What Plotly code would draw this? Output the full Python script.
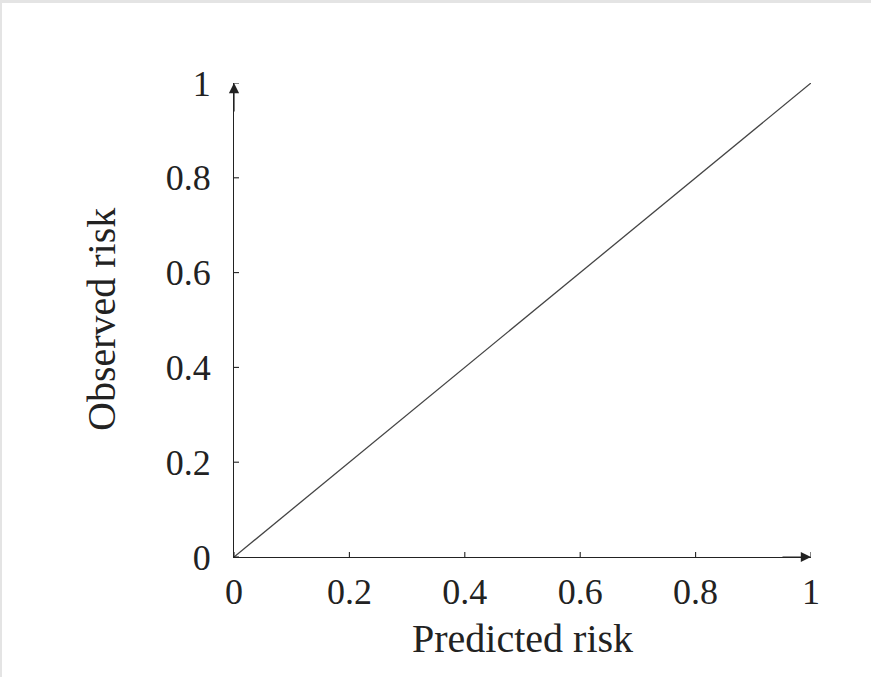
import plotly.graph_objects as go

# data
x_vals = [0, 1]
y_vals = [0, 1]
tick_vals = [0, 0.2, 0.4, 0.6, 0.8, 1]
tick_text = ["0", "0.2", "0.4", "0.6", "0.8", "1"]
x_title = "Predicted risk"
y_title = "Observed risk"

W, H = 871, 677
L, R, T, B = 234, 60, 83, 120
PW, PH = W - L - R, H - T - B
FONT = "Liberation Serif"
AX = "#222222"


def pxx(px):
    return (px - L) / PW


def pxy(py):
    return (H - B - py) / PH


fig = go.Figure()
fig.add_trace(go.Scatter(x=x_vals, y=y_vals, mode="lines",
                         line=dict(color="#444444", width=1.3),
                         showlegend=False, hoverinfo="skip", cliponaxis=False))

shapes = []
# gray frame bands at top and left of the page
shapes.append(dict(type="rect", xref="paper", yref="paper", x0=pxx(0), x1=pxx(W),
                   y0=pxy(3), y1=pxy(0), fillcolor="#e4e4e4", line=dict(width=0), layer="below"))
shapes.append(dict(type="rect", xref="paper", yref="paper", x0=pxx(0), x1=pxx(2),
                   y0=pxy(H), y1=pxy(0), fillcolor="#e4e4e4", line=dict(width=0), layer="below"))
# ticks crossing the axes (both sides)
for v in tick_vals:
    shapes.append(dict(type="line", xref="x", yref="y", ysizemode="pixel", yanchor=0,
                       x0=v, x1=v, y0=-5, y1=5, line=dict(color=AX, width=1.1)))
    shapes.append(dict(type="line", xref="x", yref="y", xsizemode="pixel", xanchor=0,
                       y0=v, y1=v, x0=-5, x1=5, line=dict(color=AX, width=1.1)))

annotations = [
    dict(x=1, y=0, xref="x", yref="y", ax=-30, ay=0, text="", showarrow=True,
         arrowhead=2, arrowsize=1.7, arrowwidth=1.2, arrowcolor=AX, standoff=0),
    dict(x=0, y=1, xref="x", yref="y", ax=0, ay=30, text="", showarrow=True,
         arrowhead=2, arrowsize=1.7, arrowwidth=1.2, arrowcolor=AX, standoff=0),
    dict(x=0.5, y=0, xref="paper", yref="paper", yshift=-(638 - (H - B)), text=x_title,
         showarrow=False, xanchor="center", yanchor="middle",
         font=dict(family=FONT, size=40, color="#222222")),
    dict(x=0, y=0.5, xref="paper", yref="paper", xshift=101 - L, text=y_title,
         textangle=-90, showarrow=False, xanchor="center", yanchor="middle",
         font=dict(family=FONT, size=40, color="#222222")),
]

axis_common = dict(range=[0, 1], tickvals=tick_vals, ticktext=tick_text,
                   showgrid=False, zeroline=False, showline=True, linecolor=AX,
                   linewidth=1.2, ticks="", tickfont=dict(family=FONT, size=36, color="#222222"))

fig.update_layout(
    width=W, height=H,
    margin=dict(l=L, r=R, t=T, b=B),
    paper_bgcolor="white", plot_bgcolor="white",
    xaxis=dict(**axis_common, ticklabelstandoff=3),
    yaxis=dict(**axis_common, ticklabelstandoff=15),
    shapes=shapes, annotations=annotations,
    showlegend=False,
)

fig.write_html("out.html")
